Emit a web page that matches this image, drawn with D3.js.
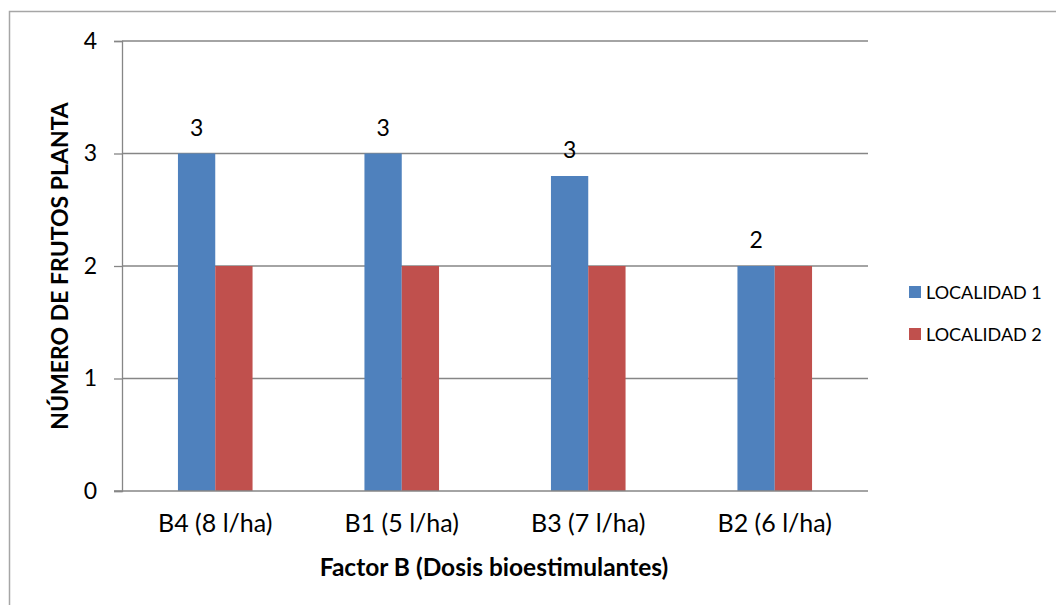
<!DOCTYPE html>
<html><head><meta charset="utf-8">
<script src="https://cdn.jsdelivr.net/npm/d3@7/dist/d3.min.js"></script>
<style>body{margin:0;background:#fff}svg{display:block}text{font-family:Lato,"Open Sans",sans-serif;fill:#000}</style>
</head><body>
<svg id="c" width="1056" height="605"></svg>
<script>
const categories = ["B4 (8 l/ha)", "B1 (5 l/ha)", "B3 (7 l/ha)", "B2 (6 l/ha)"];
const seriesNames = ["LOCALIDAD 1", "LOCALIDAD 2"];
const localidad1 = [3, 3, 2.8, 2];
const localidad2 = [2, 2, 2, 2];
const yTicks = [0, 1, 2, 3, 4];
const colors = ["#4F81BD", "#C0504D"];
const seriesValues = [localidad1, localidad2];

const svg = d3.select("#c");
const m = {l: 122, r: 868, t: 41, b: 491};

svg.append("rect").attr("x", 9.5).attr("y", 11.5).attr("width", 1200).attr("height", 800)
  .attr("fill", "none").attr("stroke", "#a6a6a6").attr("stroke-width", 1.5);

const x0 = d3.scaleBand().domain(categories).range([m.l, m.r]).paddingInner(0).paddingOuter(0);
const bw = x0.bandwidth();
const x1 = d3.scaleBand().domain(seriesNames).range([bw * 0.3, bw * 0.7]);
const y = d3.scaleLinear().domain([0, 4]).range([m.b, m.t]);

// gridlines
svg.append("g").selectAll("line").data(yTicks.filter(d => d > 0)).join("line")
  .attr("x1", m.l).attr("x2", m.r).attr("y1", d => y(d)).attr("y2", d => y(d))
  .attr("stroke", "#868686").attr("stroke-width", 1.3);

// y axis
const yAxis = svg.append("g").attr("transform", `translate(${m.l},0)`)
  .call(d3.axisLeft(y).tickValues(yTicks).tickSize(8).tickPadding(17).tickFormat(d3.format("d")));
yAxis.select(".domain").attr("stroke", "#868686").attr("stroke-width", 1.3);
yAxis.selectAll(".tick line").attr("stroke", "#868686").attr("stroke-width", 1.3);
yAxis.selectAll(".tick text").attr("font-size", 23).attr("font-family", "Lato").attr("fill", "#000");

// bars
const groups = svg.append("g").selectAll("g").data(categories).join("g")
  .attr("transform", d => `translate(${x0(d)},0)`);
groups.selectAll("rect").data((c, i) => seriesNames.map((s, j) => ({s, j, v: seriesValues[j][i]}))).join("rect")
  .attr("x", d => x1(d.s)).attr("width", x1.bandwidth())
  .attr("y", d => y(d.v)).attr("height", d => y(0) - y(d.v))
  .attr("fill", d => colors[d.j]);

// data labels (series 1)
svg.append("g").selectAll("text").data(categories).join("text")
  .attr("x", (c) => x0(c) + x1(seriesNames[0]) + x1.bandwidth() / 2)
  .attr("y", (c, i) => y(localidad1[i]) - 18)
  .attr("text-anchor", "middle").attr("font-size", 23)
  .text((c, i) => d3.format(".0f")(localidad1[i]));

// x axis
const xAxis = svg.append("g").attr("transform", `translate(0,${m.b})`)
  .call(d3.axisBottom(x0).tickSize(0).tickPadding(23));
xAxis.select(".domain").attr("stroke", "#868686").attr("stroke-width", 1.3).attr("d", `M${m.l - 8},0H${m.r}`);
xAxis.selectAll(".tick text").attr("font-size", 25).attr("font-family", "Lato").attr("fill", "#000");

// axis titles
svg.append("text").attr("x", 494).attr("y", 576).attr("text-anchor", "middle")
  .attr("font-size", 24.5).attr("font-weight", "bold").text("Factor B (Dosis bioestimulantes)");
svg.append("text").attr("transform", `translate(68,266) rotate(-90)`).attr("text-anchor", "middle")
  .attr("font-size", 23).attr("font-weight", "bold").text("NÚMERO DE FRUTOS PLANTA");

// legend
const lg = svg.append("g").selectAll("g").data(seriesNames).join("g")
  .attr("transform", (d, i) => `translate(909,${286 + i * 42})`);
lg.append("rect").attr("width", 12).attr("height", 12).attr("fill", (d, i) => colors[i]);
lg.append("text").attr("x", 17).attr("y", 12.5).attr("font-size", 18).text(d => d);
</script>
</body></html>
